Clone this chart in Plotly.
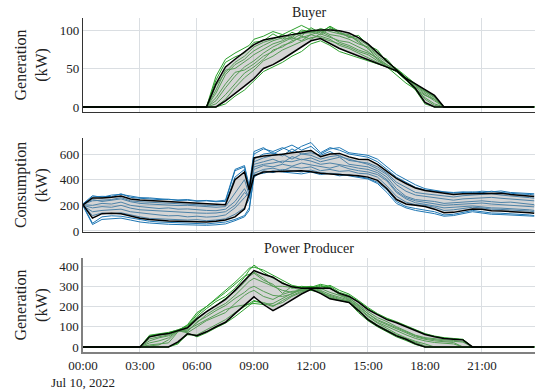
import pandas as pd
import plotly.graph_objects as go
from plotly.subplots import make_subplots

# time grid (half-hourly, with 08:45 and 23:45 added)
times = [
    "00:00", "00:30", "01:00", "01:30", "02:00", "02:30", "03:00", "03:30", "04:00", "04:30",
    "05:00", "05:30", "06:00", "06:30", "07:00", "07:30", "08:00", "08:30", "08:45", "09:00",
    "09:30", "10:00", "10:30", "11:00", "11:30", "12:00", "12:30", "13:00", "13:30", "14:00",
    "14:30", "15:00", "15:30", "16:00", "16:30", "17:00", "17:30", "18:00", "18:30", "19:00",
    "19:30", "20:00", "20:30", "21:00", "21:30", "22:00", "22:30", "23:00", "23:30", "23:45",
]
x = pd.to_datetime(["2022-07-10 " + t for t in times])

# ---------------- Buyer generation (kW) ----------------
buyer_upper = [0, 0, 0, 0, 0, 0, 0, 0, 0, 0,
               0, 0, 0, 0, 30, 52, 62, 72, 77, 81,
               87, 90, 92, 94, 96, 99, 100, 100, 99, 96,
               90, 82, 71, 60, 48, 37, 30, 22, 15, 0,
               0, 0, 0, 0, 0, 0, 0, 0, 0, 0]
buyer_lower = [0, 0, 0, 0, 0, 0, 0, 0, 0, 0,
               0, 0, 0, 0, 0, 8, 17, 27, 32, 37,
               50, 55, 62, 70, 77, 86, 89, 82, 76, 71,
               66, 61, 56, 52, 47, 36, 24, 6, 0, 0,
               0, 0, 0, 0, 0, 0, 0, 0, 0, 0]
buyer_series = [
    [0, 0, 0, 0, 0, 0, 0, 0, 0, 0, 0, 0, 0, 0, 35, 58, 65, 70, 77, 84,
     86, 95, 88, 97, 92, 103, 96, 105, 98, 90, 93, 80, 74, 58, 50, 40, 30, 22, 14, 0,
     0, 0, 0, 0, 0, 0, 0, 0, 0, 0],
    [0, 0, 0, 0, 0, 0, 0, 0, 0, 0, 0, 0, 0, 0, 18, 42, 55, 62, 68, 73,
     80, 86, 90, 88, 95, 97, 100, 94, 92, 88, 82, 78, 68, 62, 48, 38, 28, 20, 12, 0,
     0, 0, 0, 0, 0, 0, 0, 0, 0, 0],
    [0, 0, 0, 0, 0, 0, 0, 0, 0, 0, 0, 0, 0, 0, 8, 25, 40, 52, 56, 60,
     70, 78, 84, 90, 86, 94, 98, 92, 84, 80, 74, 70, 64, 55, 48, 36, 26, 16, 8, 0,
     0, 0, 0, 0, 0, 0, 0, 0, 0, 0],
    [0, 0, 0, 0, 0, 0, 0, 0, 0, 0, 0, 0, 0, 0, 0, 10, 25, 38, 43, 48,
     60, 66, 74, 80, 85, 90, 92, 88, 80, 76, 70, 64, 58, 52, 46, 36, 25, 10, 2, 0,
     0, 0, 0, 0, 0, 0, 0, 0, 0, 0],
    [0, 0, 0, 0, 0, 0, 0, 0, 0, 0, 0, 0, 0, 0, 22, 48, 50, 58, 63, 68,
     75, 82, 86, 92, 98, 96, 102, 98, 95, 92, 86, 76, 66, 58, 49, 38, 29, 21, 13, 0,
     0, 0, 0, 0, 0, 0, 0, 0, 0, 0],
    [0, 0, 0, 0, 0, 0, 0, 0, 0, 0, 0, 0, 0, 0, 12, 30, 45, 48, 52, 56,
     66, 72, 80, 84, 92, 88, 95, 90, 86, 84, 78, 72, 62, 54, 47, 37, 27, 18, 10, 0,
     0, 0, 0, 0, 0, 0, 0, 0, 0, 0],
    [0, 0, 0, 0, 0, 0, 0, 0, 0, 0, 0, 0, 0, 0, 4, 16, 30, 44, 48, 52,
     62, 74, 78, 86, 90, 94, 90, 86, 82, 78, 72, 68, 60, 53, 46, 35, 24, 12, 4, 0,
     0, 0, 0, 0, 0, 0, 0, 0, 0, 0],
    [0, 0, 0, 0, 0, 0, 0, 0, 0, 0, 0, 0, 0, 0, 28, 45, 58, 66, 72, 78,
     84, 88, 94, 90, 100, 98, 94, 102, 96, 92, 88, 80, 70, 60, 49, 38, 29, 20, 14, 0,
     0, 0, 0, 0, 0, 0, 0, 0, 0, 0],
    [0, 0, 0, 0, 0, 0, 0, 0, 0, 0, 0, 0, 0, 0, 40, 62, 70, 76, 80, 88,
     92, 98, 94, 100, 106, 100, 98, 104, 96, 94, 84, 76, 62, 52, 41, 31, 23, 15, 10, 0,
     0, 0, 0, 0, 0, 0, 0, 0, 0, 0],
    [0, 0, 0, 0, 0, 0, 0, 0, 0, 0, 0, 0, 0, 0, 0, 4, 14, 22, 28, 34,
     46, 52, 58, 66, 72, 82, 86, 80, 72, 68, 64, 60, 56, 52, 46, 35, 22, 4, 0, 0,
     0, 0, 0, 0, 0, 0, 0, 0, 0, 0],
]

# ---------------- Buyer consumption (kW) ----------------
cons_upper = [204, 258, 258, 262, 272, 250, 242, 238, 232, 228,
              225, 222, 218, 212, 206, 205, 400, 460, 320, 570,
              585, 590, 598, 610, 620, 628, 580, 600, 605, 578,
              560, 558, 520, 465, 410, 370, 335, 315, 305, 290,
              285, 290, 292, 295, 298, 295, 285, 280, 272, 268]
cons_lower = [204, 100, 135, 138, 135, 118, 100, 90, 82, 78,
              75, 72, 68, 70, 76, 86, 110, 170, 290, 430,
              460, 462, 465, 468, 470, 462, 450, 445, 440, 436,
              430, 420, 395, 330, 245, 210, 200, 190, 170, 142,
              145, 160, 172, 170, 158, 155, 152, 150, 142, 138]
cons_series = [
    [210, 265, 270, 268, 290, 262, 255, 250, 245, 248,
     238, 240, 232, 235, 228, 230, 470, 500, 330, 600,
     640, 620, 650, 615, 660, 690, 610, 650, 630, 600,
     590, 575, 540, 480, 420, 380, 340, 320, 310, 300,
     295, 300, 305, 298, 310, 300, 292, 288, 285, 280],
    [200, 60, 110, 118, 115, 100, 88, 76, 70, 66,
     64, 60, 58, 55, 62, 70, 90, 120, 180, 420,
     470, 455, 480, 470, 460, 475, 455, 448, 430, 440,
     425, 410, 380, 320, 230, 190, 175, 165, 150, 125,
     130, 145, 160, 150, 140, 138, 135, 130, 125, 120],
    [205, 200, 215, 210, 225, 200, 190, 185, 175, 180,
     170, 172, 165, 160, 158, 170, 230, 330, 260, 520,
     540, 560, 530, 580, 555, 570, 540, 560, 575, 520,
     510, 500, 470, 420, 330, 270, 245, 240, 230, 215,
     220, 225, 230, 235, 228, 222, 225, 215, 210, 205],
    [198, 150, 160, 165, 170, 150, 140, 130, 125, 118,
     120, 110, 115, 108, 112, 125, 180, 260, 300, 480,
     510, 500, 520, 505, 530, 515, 500, 490, 510, 485,
     470, 460, 440, 390, 300, 250, 220, 210, 195, 180,
     185, 190, 195, 188, 180, 178, 175, 170, 165, 160],
    [208, 235, 240, 245, 260, 235, 228, 225, 220, 215,
     210, 212, 205, 200, 198, 210, 420, 480, 300, 560,
     600, 610, 585, 640, 600, 610, 590, 620, 580, 560,
     540, 530, 500, 450, 380, 340, 300, 290, 280, 270,
     265, 275, 280, 285, 290, 280, 275, 270, 260, 255],
    [202, 120, 140, 135, 142, 125, 110, 98, 95, 90,
     92, 85, 88, 80, 85, 95, 130, 180, 250, 450,
     480, 490, 470, 500, 490, 500, 470, 480, 465, 470,
     450, 445, 420, 350, 270, 225, 205, 200, 185, 160,
     165, 175, 185, 180, 170, 168, 165, 162, 155, 150],
    [206, 245, 230, 240, 250, 228, 215, 210, 205, 200,
     198, 200, 195, 188, 185, 190, 300, 400, 280, 540,
     570, 590, 600, 560, 600, 590, 560, 580, 590, 550,
     540, 520, 485, 440, 360, 310, 280, 270, 255, 245,
     240, 250, 255, 260, 262, 255, 250, 245, 240, 235],
    [200, 180, 190, 185, 200, 178, 165, 160, 155, 150,
     148, 145, 140, 138, 140, 150, 200, 300, 270, 500,
     520, 530, 545, 540, 560, 545, 520, 530, 520, 505,
     490, 480, 455, 400, 310, 260, 235, 225, 215, 200,
     205, 210, 215, 218, 210, 205, 200, 198, 192, 188],
    [195, 50, 90, 95, 100, 85, 70, 62, 55, 52,
     50, 48, 45, 44, 48, 55, 80, 110, 160, 440,
     450, 470, 460, 455, 445, 460, 440, 450, 445, 430,
     420, 405, 370, 300, 215, 180, 160, 150, 135, 115,
     120, 135, 150, 140, 130, 128, 125, 122, 118, 115],
    [212, 275, 262, 280, 285, 270, 260, 258, 250, 245,
     242, 245, 235, 238, 232, 240, 480, 510, 350, 620,
     650, 600, 640, 670, 630, 660, 600, 640, 650, 610,
     600, 590, 560, 500, 440, 400, 360, 330, 318, 305,
     300, 305, 300, 310, 305, 312, 300, 295, 290, 290],
]

# ---------------- Power producer generation (kW) ----------------
prod_upper = [0, 0, 0, 0, 0, 0, 0, 50, 60, 66,
              82, 95, 140, 175, 205, 235, 280, 330, 355, 378,
              360, 345, 315, 298, 290, 292, 292, 290, 265, 250,
              222, 185, 158, 135, 120, 100, 80, 62, 50, 42,
              38, 35, 0, 0, 0, 0, 0, 0, 0, 0]
prod_lower = [0, 0, 0, 0, 0, 0, 0, 0, 0, 0,
              25, 65, 56, 75, 100, 122, 165, 205, 225, 248,
              210, 180, 205, 235, 262, 285, 265, 238, 228, 220,
              180, 135, 105, 80, 55, 38, 15, 0, 0, 0,
              0, 0, 0, 0, 0, 0, 0, 0, 0, 0]
prod_series = [
    [0, 0, 0, 0, 0, 0, 0, 55, 62, 70, 85, 100, 150, 190, 225, 250, 290, 345, 380, 405,
     370, 340, 320, 290, 300, 295, 310, 300, 270, 255, 225, 190, 160, 138, 122, 102, 82, 64, 52, 44,
     40, 36, 0, 0, 0, 0, 0, 0, 0, 0],
    [0, 0, 0, 0, 0, 0, 0, 0, 0, 0, 20, 60, 60, 85, 110, 135, 170, 200, 215, 230,
     215, 200, 230, 255, 275, 280, 270, 245, 232, 222, 185, 140, 108, 82, 58, 40, 20, 0, 0, 0,
     0, 0, 0, 0, 0, 0, 0, 0, 0, 0],
    [0, 0, 0, 0, 0, 0, 0, 30, 45, 55, 78, 80, 120, 160, 190, 215, 255, 300, 325, 340,
     320, 300, 280, 270, 285, 300, 290, 270, 255, 235, 200, 165, 130, 110, 90, 70, 50, 38, 30, 26,
     22, 0, 0, 0, 0, 0, 0, 0, 0, 0],
    [0, 0, 0, 0, 0, 0, 0, 50, 58, 65, 80, 110, 170, 200, 235, 270, 310, 350, 360, 370,
     340, 300, 300, 295, 280, 290, 305, 290, 260, 240, 210, 175, 145, 125, 100, 78, 58, 46, 40, 36,
     32, 28, 0, 0, 0, 0, 0, 0, 0, 0],
    [0, 0, 0, 0, 0, 0, 0, 10, 15, 20, 75, 85, 110, 135, 160, 185, 200, 210, 212, 215,
     210, 215, 240, 265, 280, 290, 275, 240, 230, 220, 170, 130, 100, 75, 50, 32, 12, 0, 0, 0,
     0, 0, 0, 0, 0, 0, 0, 0, 0, 0],
    [0, 0, 0, 0, 0, 0, 0, 40, 50, 60, 80, 90, 135, 175, 205, 240, 275, 320, 350, 365,
     330, 310, 265, 300, 295, 285, 300, 295, 258, 245, 205, 165, 135, 115, 92, 72, 55, 42, 36, 30,
     28, 24, 0, 0, 0, 0, 0, 0, 0, 0],
    [0, 0, 0, 0, 0, 0, 0, 5, 10, 35, 80, 70, 100, 130, 150, 170, 215, 255, 270, 280,
     250, 235, 260, 275, 280, 285, 275, 250, 235, 228, 190, 150, 118, 92, 66, 45, 28, 15, 0, 0,
     0, 0, 0, 0, 0, 0, 0, 0, 0, 0],
    [0, 0, 0, 0, 0, 0, 0, 20, 30, 45, 82, 75, 125, 150, 180, 205, 240, 270, 290, 300,
     275, 255, 250, 262, 290, 295, 280, 260, 245, 232, 195, 155, 122, 100, 78, 60, 42, 30, 22, 18,
     15, 0, 0, 0, 0, 0, 0, 0, 0, 0],
    [0, 0, 0, 0, 0, 0, 0, 58, 64, 72, 84, 105, 160, 200, 240, 280, 320, 365, 390, 395,
     380, 355, 330, 305, 295, 300, 285, 305, 280, 262, 230, 195, 165, 142, 125, 104, 84, 66, 54, 46,
     42, 38, 0, 0, 0, 0, 0, 0, 0, 0],
    [0, 0, 0, 0, 0, 0, 0, 0, 0, 0, 15, 70, 50, 70, 95, 118, 150, 185, 205, 225,
     220, 205, 220, 250, 270, 290, 265, 255, 240, 225, 178, 138, 108, 84, 60, 42, 22, 5, 0, 0,
     0, 0, 0, 0, 0, 0, 0, 0, 0, 0],
]

for s in [buyer_upper, buyer_lower, cons_upper, cons_lower, prod_upper, prod_lower] \
        + buyer_series + cons_series + prod_series:
    assert len(s) == len(times), len(s)

GREEN = "#2ca02c"
BLUE = "#1f77b4"
BAND = "rgba(150,150,150,0.4)"
FONT = "Liberation Serif"

fig = make_subplots(rows=3, cols=1, shared_xaxes=True, vertical_spacing=0.078,
                    subplot_titles=("Buyer", "", "Power Producer"))

panels = [
    (1, buyer_series, GREEN, buyer_lower, buyer_upper),
    (2, cons_series, BLUE, cons_lower, cons_upper),
    (3, prod_series, GREEN, prod_lower, prod_upper),
]
for row, series, color, lower, upper in panels:
    for s in series:
        fig.add_trace(go.Scatter(x=x, y=s, mode="lines",
                                 line=dict(color=color, width=1), showlegend=False),
                      row=row, col=1)
    fig.add_trace(go.Scatter(x=x, y=lower, mode="lines",
                             line=dict(color="black", width=1.5), showlegend=False),
                  row=row, col=1)
    fig.add_trace(go.Scatter(x=x, y=upper, mode="lines", fill="tonexty",
                             fillcolor=BAND,
                             line=dict(color="black", width=1.5), showlegend=False),
                  row=row, col=1)

fig.update_layout(
    width=535, height=392,
    margin=dict(l=83, r=0, t=18, b=40, autoexpand=False),
    plot_bgcolor="white", paper_bgcolor="white",
    font=dict(family=FONT, size=13, color="#222"),
    showlegend=False,
)
for ann in fig.layout.annotations:
    ann.font = dict(family=FONT, size=14, color="#222")
    if ann.text == "Buyer":
        ann.yshift = -4

fig.update_xaxes(
    type="date",
    range=["2022-07-10 00:00", "2022-07-10 23:47:30"],
    dtick=3 * 3600 * 1000, tick0="2022-07-10 00:00",
    showgrid=True, gridcolor="#dadee2", gridwidth=1,
    showline=True, linecolor="#333", linewidth=1.2,
    ticks="", zeroline=False,
    tickfont=dict(family=FONT, size=13, color="#222"),
)
fig.update_yaxes(
    showgrid=True, gridcolor="#dadee2", gridwidth=1,
    showline=True, linecolor="#333", linewidth=1.2,
    ticks="", zeroline=False,
    tickfont=dict(family=FONT, size=13, color="#222"),
    title_font=dict(family=FONT, size=16, color="#222"),
    title_standoff=8,
)
fig.update_xaxes(linecolor="#808080", linewidth=2, row=3, col=1)
fig.update_yaxes(title_text="Generation<br>(kW)", range=[-6.5, 115.6],
                 tickvals=[0, 50, 100], row=1, col=1)
fig.update_yaxes(title_text="Consumption<br>(kW)", range=[-8, 725],
                 tickvals=[0, 200, 400, 600], row=2, col=1)
fig.update_yaxes(title_text="Generation<br>(kW)", range=[-25, 440],
                 tickvals=[0, 100, 200, 300, 400], row=3, col=1,
                 linecolor="#808080", linewidth=1.5)

fig.write_html("out.html", config={"displayModeBar": False},
               post_script="document.body.style.margin='0';document.body.style.overflow='hidden';")
